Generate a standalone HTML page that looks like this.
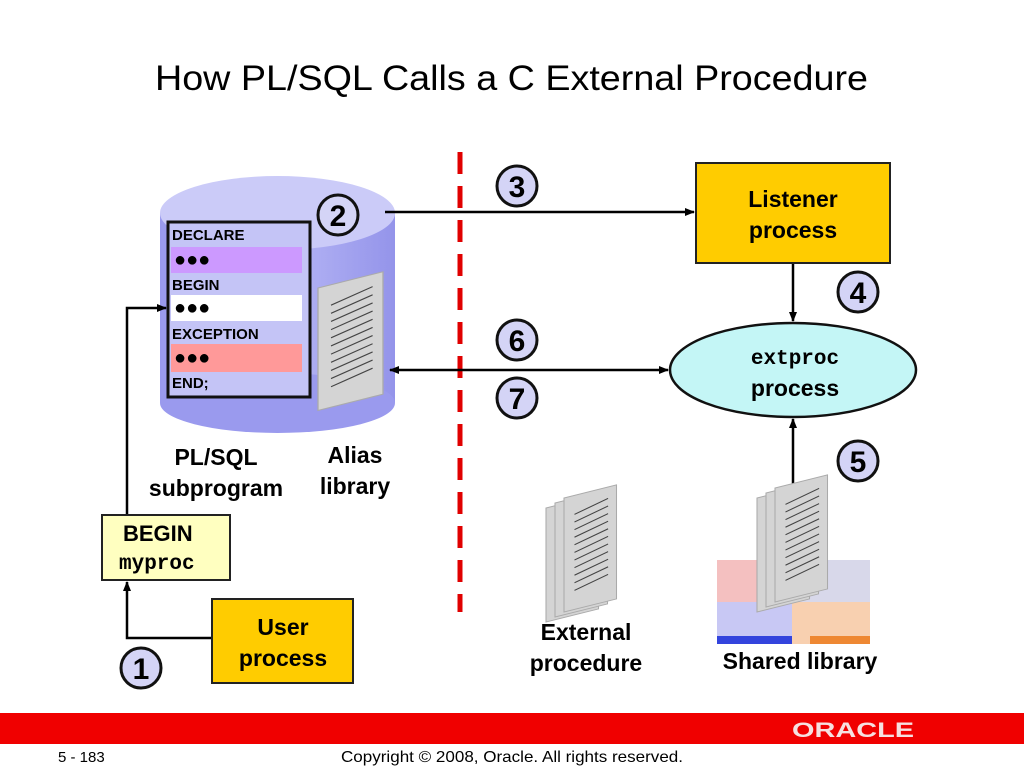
<!DOCTYPE html>
<html><head><style>
html,body{margin:0;padding:0;background:#fff;}
svg{display:block;font-family:"Liberation Sans",Arial,sans-serif;}
</style></head><body>
<svg width="1024" height="768" viewBox="0 0 1024 768" xmlns="http://www.w3.org/2000/svg">
<defs>
<marker id="ah" markerWidth="10" markerHeight="10" refX="9" refY="5" orient="auto" markerUnits="userSpaceOnUse">
<path d="M0,1 L10,5 L0,9 z" fill="#000"/></marker>
<marker id="ahs" markerWidth="10" markerHeight="10" refX="1" refY="5" orient="auto" markerUnits="userSpaceOnUse">
<path d="M10,1 L0,5 L10,9 z" fill="#000"/></marker>
<linearGradient id="cyl" x1="0" x2="1"><stop offset="0" stop-color="#9a9aee"/><stop offset="0.5" stop-color="#b8b8f6"/><stop offset="1" stop-color="#9494ea"/></linearGradient>
<g id="doc"><rect x="0" y="0" width="50" height="120" fill="#d4d4d4" stroke="#aaa"/>
<g stroke="#444" stroke-width="1.2"><line x1="10" y1="20" x2="42" y2="12"/><line x1="10" y1="28" x2="42" y2="20"/><line x1="10" y1="36" x2="42" y2="28"/><line x1="10" y1="44" x2="42" y2="36"/><line x1="10" y1="52" x2="42" y2="44"/><line x1="10" y1="60" x2="42" y2="52"/><line x1="10" y1="68" x2="42" y2="60"/><line x1="10" y1="76" x2="42" y2="68"/><line x1="10" y1="84" x2="42" y2="76"/><line x1="10" y1="92" x2="42" y2="84"/><line x1="10" y1="100" x2="42" y2="92"/></g></g>
</defs>
<text x="155" y="90" font-size="35" textLength="713" lengthAdjust="spacingAndGlyphs">How PL/SQL Calls a C External Procedure</text>

<!-- cylinder -->
<rect x="160" y="213" width="235" height="190" fill="url(#cyl)"/>
<ellipse cx="277.5" cy="403" rx="117.5" ry="30" fill="#9a9aee"/>
<ellipse cx="277.5" cy="213" rx="117.5" ry="37" fill="#cbcbf8"/>
<rect x="168" y="222" width="142" height="175" fill="#c4c4f6" stroke="#111" stroke-width="3"/>
<rect x="171" y="247" width="131" height="26" fill="#cc99ff"/>
<rect x="171" y="295" width="131" height="26" fill="#fff"/>
<rect x="171" y="344" width="131" height="28" fill="#ff9999"/>
<g font-size="15" font-weight="bold">
<text x="172" y="240">DECLARE</text><text x="172" y="290">BEGIN</text><text x="172" y="339">EXCEPTION</text><text x="172" y="388">END;</text>
<text x="174" y="266" font-size="20">●●●</text><text x="174" y="314" font-size="20">●●●</text><text x="174" y="364" font-size="20">●●●</text></g>
<g transform="translate(318,288) skewY(-14)"><use href="#doc" transform="scale(1.3,1.02)"/></g>

<g fill="#d4d4f6" stroke="#111" stroke-width="3">
<circle cx="338" cy="215" r="20"/><circle cx="517" cy="186" r="20"/><circle cx="858" cy="292" r="20"/>
<circle cx="517" cy="340" r="20"/><circle cx="517" cy="398" r="20"/><circle cx="858" cy="461" r="20"/><circle cx="141" cy="668" r="20"/></g>
<g font-size="30" font-weight="bold" text-anchor="middle">
<text x="338" y="226">2</text><text x="517" y="197">3</text><text x="858" y="303">4</text><text x="517" y="351">6</text><text x="517" y="409">7</text><text x="858" y="472">5</text><text x="141" y="679">1</text></g>

<line x1="460" y1="152" x2="460" y2="612" stroke="#e00000" stroke-width="5" stroke-dasharray="22,12"/>

<g stroke="#000" stroke-width="2.5" fill="none">
<line x1="385" y1="212" x2="694" y2="212" marker-end="url(#ah)"/>
<line x1="390" y1="370" x2="668" y2="370" marker-end="url(#ah)" marker-start="url(#ahs)"/>
<line x1="793" y1="264" x2="793" y2="321" marker-end="url(#ah)"/>
<line x1="793" y1="486" x2="793" y2="419" marker-end="url(#ah)"/>
<polyline points="212,638 127,638 127,582" marker-end="url(#ah)"/>
<polyline points="127,515 127,308 166,308" marker-end="url(#ah)"/>
</g>

<rect x="696" y="163" width="194" height="100" fill="#ffcc00" stroke="#222" stroke-width="2"/>
<text x="793" y="207" font-size="23" font-weight="bold" text-anchor="middle">Listener</text>
<text x="793" y="238" font-size="23" font-weight="bold" text-anchor="middle">process</text>
<ellipse cx="793" cy="370" rx="123" ry="47" fill="#c4f6f6" stroke="#111" stroke-width="2.5"/>
<text x="795" y="364" font-size="21" font-weight="bold" text-anchor="middle" font-family="Liberation Mono,monospace">extproc</text>
<text x="795" y="396" font-size="23" font-weight="bold" text-anchor="middle">process</text>
<rect x="102" y="515" width="128" height="65" fill="#ffffc0" stroke="#222" stroke-width="2"/>
<text x="123" y="541" font-size="22" font-weight="bold">BEGIN</text>
<text x="119" y="569" font-size="21" font-weight="bold" font-family="Liberation Mono,monospace">myproc</text>
<rect x="212" y="599" width="141" height="84" fill="#ffcc00" stroke="#222" stroke-width="2"/>
<text x="283" y="635" font-size="23" font-weight="bold" text-anchor="middle">User</text>
<text x="283" y="666" font-size="23" font-weight="bold" text-anchor="middle">process</text>

<g font-size="23" font-weight="bold" text-anchor="middle">
<text x="216" y="465">PL/SQL</text><text x="216" y="496">subprogram</text>
<text x="355" y="463">Alias</text><text x="355" y="494">library</text>
<text x="586" y="640">External</text><text x="586" y="671">procedure</text>
<text x="800" y="669">Shared library</text></g>

<rect x="717" y="560" width="75" height="42" fill="#f4c0c0"/>
<rect x="792" y="560" width="78" height="42" fill="#d8d8ea"/>
<rect x="717" y="602" width="75" height="42" fill="#c8c8f4"/>
<rect x="792" y="602" width="78" height="42" fill="#f8d0b0"/>
<rect x="717" y="636" width="75" height="8" fill="#3344dd"/>
<rect x="810" y="636" width="60" height="8" fill="#ee8833"/>
<g transform="translate(546,508) skewY(-14)"><use href="#doc" transform="scale(1.05,0.95)"/></g>
<g transform="translate(555,503) skewY(-14)"><use href="#doc" transform="scale(1.05,0.95)"/></g>
<g transform="translate(564,498) skewY(-14)"><use href="#doc" transform="scale(1.05,0.95)"/></g>
<g transform="translate(757,498) skewY(-14)"><use href="#doc" transform="scale(1.05,0.95)"/></g>
<g transform="translate(766,493) skewY(-14)"><use href="#doc" transform="scale(1.05,0.95)"/></g>
<g transform="translate(775,488) skewY(-14)"><use href="#doc" transform="scale(1.05,0.95)"/></g>

<rect x="0" y="713" width="1024" height="31" fill="#f00000"/>
<text x="792" y="737" font-size="21" font-weight="bold" fill="#f6e0e0" textLength="122" lengthAdjust="spacingAndGlyphs">ORACLE</text>
<text x="58" y="762" font-size="15">5 - 183</text>
<text x="341" y="762" font-size="16" textLength="342" lengthAdjust="spacingAndGlyphs">Copyright © 2008, Oracle. All rights reserved.</text>
</svg>
</body></html>
